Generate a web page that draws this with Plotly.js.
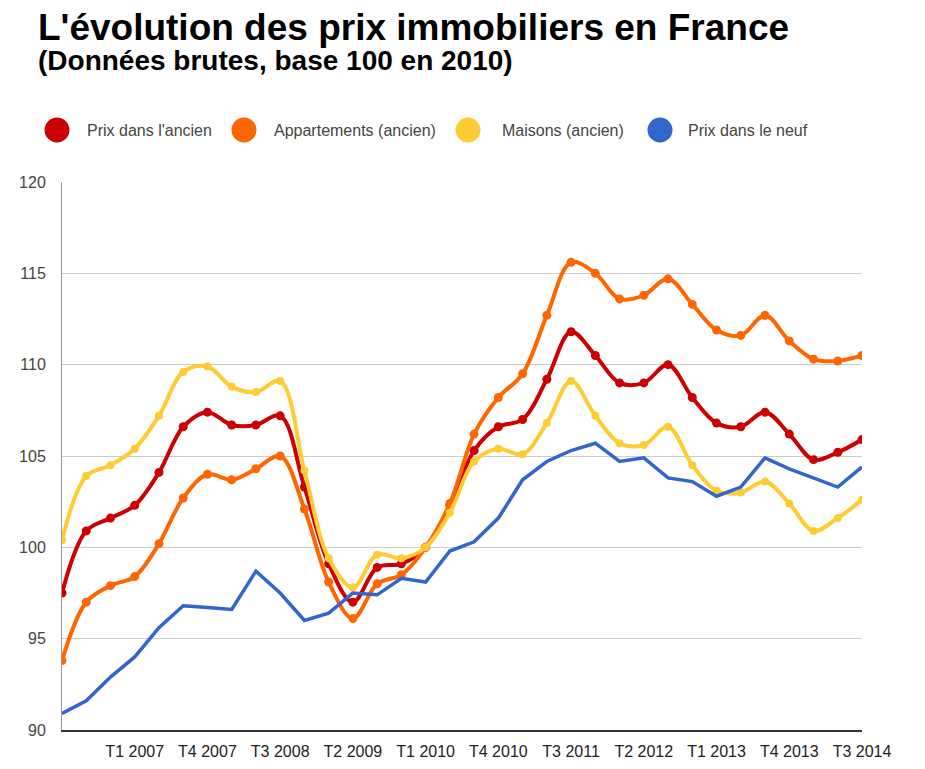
<!DOCTYPE html>
<html>
<head>
<meta charset="utf-8">
<script src="https://cdn.plot.ly/plotly-3.0.1.min.js"></script>
<style>html,body{margin:0;padding:0;background:#fff;}#chart{width:925px;height:769px;}</style>
</head>
<body>
<div id="chart"></div>
<script>
// Quarters from T2 2006 to T3 2014
const quarters = [
  "T2 2006","T3 2006","T4 2006",
  "T1 2007","T2 2007","T3 2007","T4 2007",
  "T1 2008","T2 2008","T3 2008","T4 2008",
  "T1 2009","T2 2009","T3 2009","T4 2009",
  "T1 2010","T2 2010","T3 2010","T4 2010",
  "T1 2011","T2 2011","T3 2011","T4 2011",
  "T1 2012","T2 2012","T3 2012","T4 2012",
  "T1 2013","T2 2013","T3 2013","T4 2013",
  "T1 2014","T2 2014","T3 2014"
];
const tickLabels = ["T1 2007","T4 2007","T3 2008","T2 2009","T1 2010","T4 2010","T3 2011","T2 2012","T1 2013","T4 2013","T3 2014"];

const prixAncien = [97.5,100.9,101.6,102.3,104.1,106.6,107.4,106.7,106.7,107.2,103.3,
  99.1,97.0,98.9,99.1,100.0,102.3,105.3,106.6,107.0,109.2,111.8,110.5,
  109.0,109.0,110.0,108.2,106.8,106.6,107.4,106.2,104.8,105.2,105.9];
const appartements = [93.8,97.0,97.9,98.4,100.2,102.7,104.0,103.7,104.3,105.0,102.1,
  98.1,96.1,98.0,98.5,100.0,102.4,106.2,108.2,109.5,112.7,115.6,115.0,
  113.6,113.8,114.7,113.3,111.9,111.6,112.7,111.3,110.3,110.2,110.5];
const maisons = [100.4,103.9,104.5,105.4,107.2,109.6,109.9,108.8,108.5,109.1,104.2,
  99.4,97.8,99.6,99.4,100.0,101.9,104.7,105.4,105.1,106.8,109.1,107.2,
  105.7,105.6,106.6,104.5,103.1,103.0,103.6,102.4,100.9,101.6,102.6];
const prixNeuf = [90.9,91.6,92.9,94.0,95.6,96.8,96.7,96.6,98.7,97.5,96.0,
  96.4,97.5,97.4,98.3,98.1,99.8,100.3,101.6,103.7,104.7,105.3,105.7,
  104.7,104.9,103.8,103.6,102.8,103.3,104.9,104.3,103.8,103.3,104.4];

const seriesNames = ["Prix dans l'ancien","Appartements (ancien)","Maisons (ancien)","Prix dans le neuf"];
const seriesColors = ["#cc0000","#ff6600","#ffcc33","#3366cc"];

const traces = [
  {x: quarters, y: prixAncien, name: seriesNames[0], type: 'scatter', mode: 'lines+markers',
   line: {color: seriesColors[0], width: 4, shape: 'spline', smoothing: 1},
   marker: {color: seriesColors[0], size: 9}},
  {x: quarters, y: appartements, name: seriesNames[1], type: 'scatter', mode: 'lines+markers',
   line: {color: seriesColors[1], width: 4, shape: 'spline', smoothing: 1},
   marker: {color: seriesColors[1], size: 9}},
  {x: quarters, y: maisons, name: seriesNames[2], type: 'scatter', mode: 'lines+markers',
   line: {color: seriesColors[2], width: 4, shape: 'spline', smoothing: 1},
   marker: {color: seriesColors[2], size: 8}},
  {x: quarters, y: prixNeuf, name: seriesNames[3], type: 'scatter', mode: 'lines',
   line: {color: seriesColors[3], width: 3.5}}
];

// Plot area in pixels
const L = 62, R = 63, T = 182, B = 39, W = 925, H = 769;
const pw = W - L - R, ph = H - T - B;
const px2x = p => (p - L) / pw;
const py2y = p => (H - B - p) / ph;

const legendCircleX = [57, 244, 468, 660];
const legendTextX = [85, 272, 500, 686];
const legendY = 130;

const shapes = [];
const annotations = [
  {text: "L'évolution des prix immobiliers en France", xref: 'paper', yref: 'paper',
   x: px2x(36), y: py2y(27), xanchor: 'left', yanchor: 'middle', showarrow: false,
   font: {family: 'Liberation Sans, Arial, sans-serif', size: 37, color: '#000', weight: 'bold'}},
  {text: "(Données brutes, base 100 en 2010)", xref: 'paper', yref: 'paper',
   x: px2x(36), y: py2y(61), xanchor: 'left', yanchor: 'middle', showarrow: false,
   font: {family: 'Liberation Sans, Arial, sans-serif', size: 28, color: '#000', weight: 'bold'}}
];
seriesNames.forEach((n, i) => {
  shapes.push({type: 'circle', xref: 'paper', yref: 'paper', xsizemode: 'pixel', ysizemode: 'pixel',
    xanchor: px2x(legendCircleX[i]), yanchor: py2y(legendY), x0: -12.5, x1: 12.5, y0: -12.5, y1: 12.5,
    fillcolor: seriesColors[i], line: {width: 0}});
  annotations.push({text: n, xref: 'paper', yref: 'paper', x: px2x(legendTextX[i]), y: py2y(legendY),
    xanchor: 'left', yanchor: 'middle', showarrow: false,
    font: {family: 'Liberation Sans, Arial, sans-serif', size: 16, color: '#444'}});
});

const layout = {
  width: W, height: H,
  margin: {l: L, r: R, t: T, b: B, pad: 0},
  paper_bgcolor: '#fff', plot_bgcolor: '#fff',
  showlegend: false,
  hovermode: false,
  font: {family: 'Liberation Sans, Arial, sans-serif', size: 16, color: '#444'},
  xaxis: {type: 'category', range: [0, quarters.length - 1], tickvals: tickLabels, ticktext: tickLabels,
    showgrid: false, zeroline: false, showline: true, linecolor: '#333', linewidth: 1.5,
    ticks: 'outside', ticklen: 6, tickcolor: 'rgba(0,0,0,0)',
    tickfont: {size: 16, color: '#222'}, fixedrange: true},
  yaxis: {range: [90, 120], dtick: 5, tick0: 90, showgrid: true, gridcolor: '#cccccc', gridwidth: 1,
    zeroline: false, showline: true, linecolor: '#999', linewidth: 1,
    ticks: 'outside', ticklen: 12, tickcolor: 'rgba(0,0,0,0)',
    tickfont: {size: 16, color: '#444'}, fixedrange: true},
  shapes: shapes,
  annotations: annotations
};

Plotly.newPlot('chart', traces, layout, {displayModeBar: false, staticPlot: true});
</script>
</body>
</html>
